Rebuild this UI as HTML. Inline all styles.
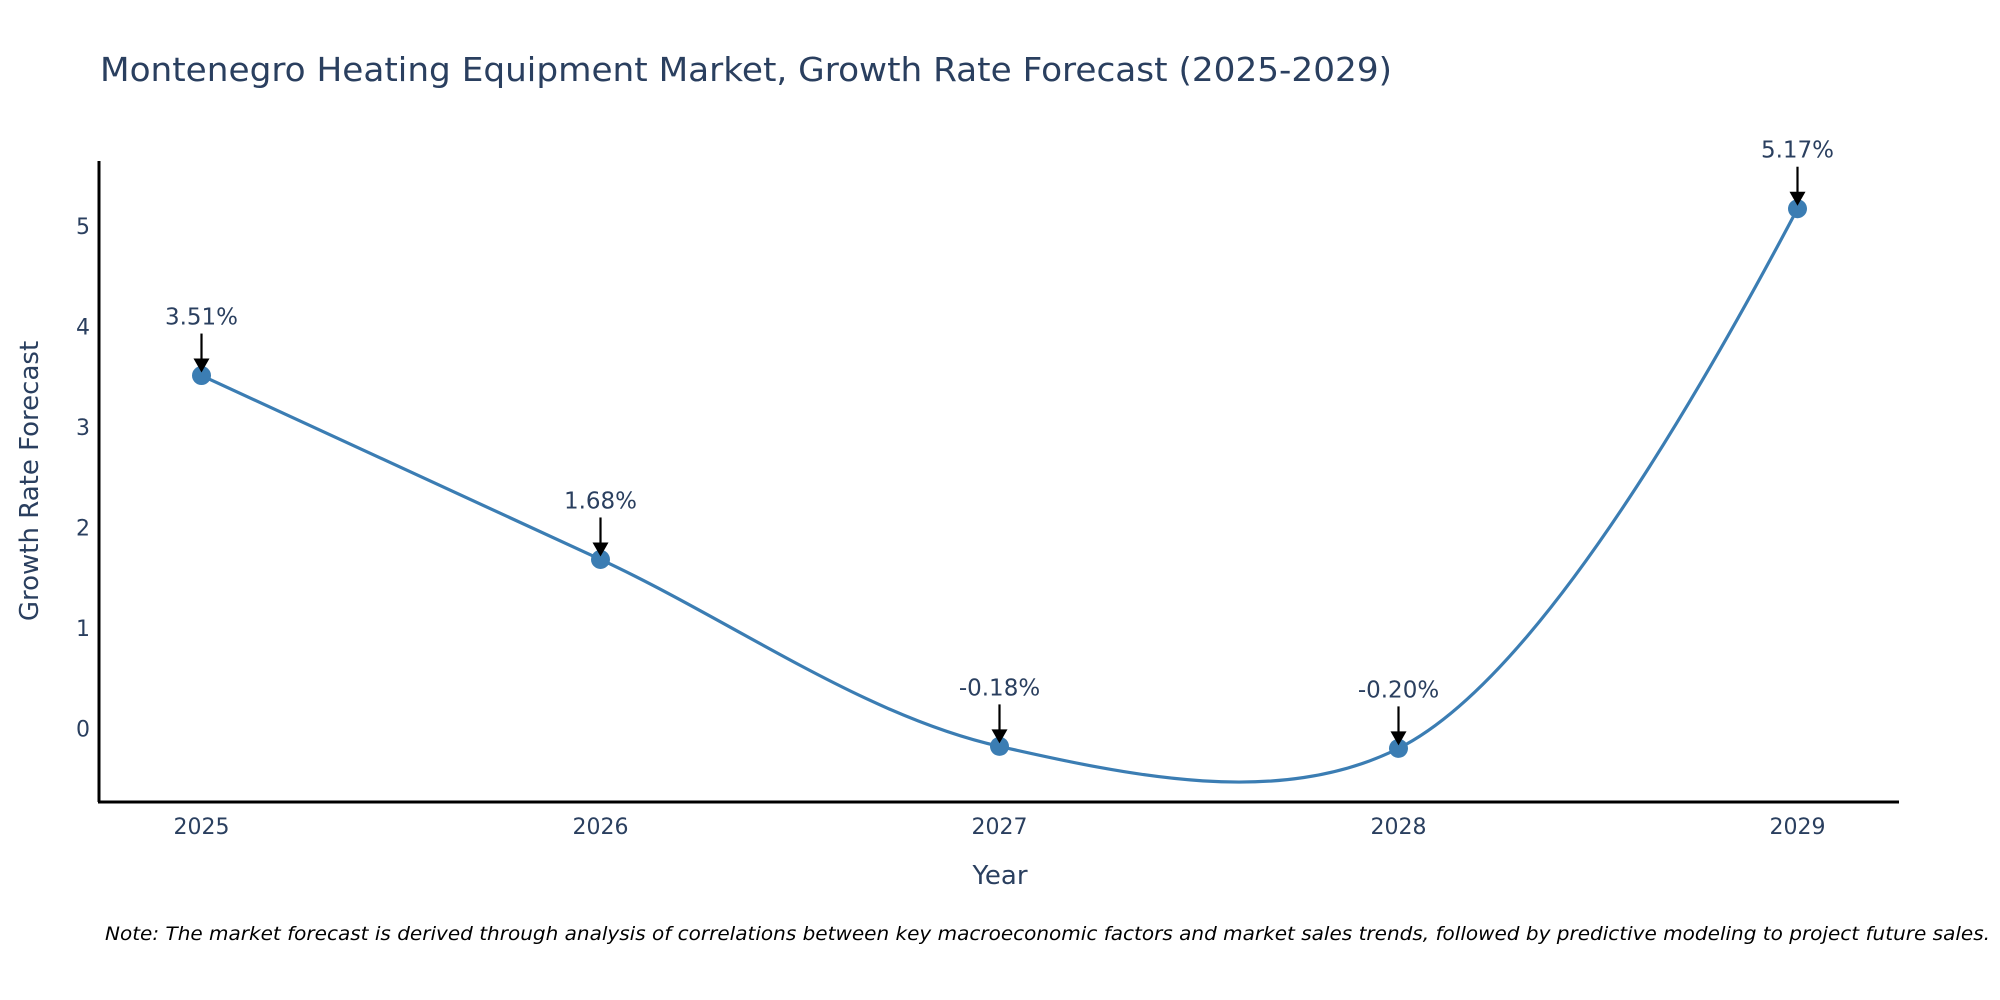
<!DOCTYPE html>
<html><head><meta charset="utf-8"><style>
body{margin:0;background:#fff;}
svg{display:block;font-family:"DejaVu Sans","Liberation Sans",sans-serif;}
</style></head><body>
<svg id="chart" width="2000" height="1000" viewBox="0 0 2000 1000">
<text x="100" y="81" font-size="33" fill="#2a3f5f" textLength="1292" lengthAdjust="spacingAndGlyphs">Montenegro Heating Equipment Market, Growth Rate Forecast (2025-2029)</text>
<g id="yticks"></g><g id="xticks"></g>
<line x1="99" y1="161" x2="99" y2="802" stroke="#000" stroke-width="3"/>
<line x1="98" y1="802" x2="1899" y2="802" stroke="#000" stroke-width="3"/>
<path id="line" fill="none" stroke="#3b7db3" stroke-width="3.2"/>
<g id="points"></g><g id="annots"></g>
<text transform="translate(38,481) rotate(-90)" text-anchor="middle" font-size="26" fill="#2a3f5f">Growth Rate Forecast</text>
<text x="1000" y="884" text-anchor="middle" font-size="26" fill="#2a3f5f">Year</text>
<text x="105" y="940" font-size="19" font-style="italic" fill="#000" textLength="1885" lengthAdjust="spacingAndGlyphs">Note: The market forecast is derived through analysis of correlations between key macroeconomic factors and market sales trends, followed by predictive modeling to project future sales.</text>
</svg>
<script>
const years = [2025, 2026, 2027, 2028, 2029];
const values = [3.51, 1.68, -0.18, -0.20, 5.17];
const labels = ["3.51%", "1.68%", "-0.18%", "-0.20%", "5.17%"];
const yTicks = [0, 1, 2, 3, 4, 5];
const NS = "http://www.w3.org/2000/svg";
function xs(v){return 201.5 + (v - 2025) * 399;}
function ys(v){return 728.3 - v * 100.5;}
function mk(tag, attrs, parent){const e=document.createElementNS(NS,tag);for(const k in attrs)e.setAttribute(k,attrs[k]);parent.appendChild(e);return e;}
const yt=document.getElementById('yticks');
yTicks.forEach(t=>{const e=mk('text',{x:90,y:ys(t)+8,'text-anchor':'end','font-size':22,fill:'#2a3f5f'},yt);


e.textContent=t;});
const xt=document.getElementById('xticks');
years.forEach(y=>{const e=mk('text',{x:xs(y),y:834,'text-anchor':'middle','font-size':22,fill:'#2a3f5f'},xt);


e.textContent=y;});
const pts=years.map((y,i)=>[xs(y),ys(values[i])]);
function tan(p0,p1,p2){const d1x=p0[0]-p1[0],d1y=p0[1]-p1[1],d2x=p2[0]-p1[0],d2y=p2[1]-p1[1];
const d1a=Math.pow(d1x*d1x+d1y*d1y,0.25),d2a=Math.pow(d2x*d2x+d2y*d2y,0.25);
const nx=d2a*d2a*d1x-d1a*d1a*d2x,ny=d2a*d2a*d1y-d1a*d1a*d2y;
const den1=3*d2a*(d1a+d2a),den2=3*d1a*(d1a+d2a);
return [[p1[0]+nx/den1,p1[1]+ny/den1],[p1[0]-nx/den2,p1[1]-ny/den2]];}
const tg=[];for(let i=1;i<pts.length-1;i++)tg.push(tan(pts[i-1],pts[i],pts[i+1]));
let d='M'+pts[0]+'Q'+tg[0][0]+' '+pts[1];
for(let i=2;i<pts.length-1;i++)d+='C'+tg[i-2][1]+' '+tg[i-1][0]+' '+pts[i];
d+='Q'+tg[tg.length-1][1]+' '+pts[pts.length-1];
document.getElementById('line').setAttribute('d',d);
const pg=document.getElementById('points'),ag=document.getElementById('annots');
pts.forEach((p,i)=>{const c=mk('circle',{cx:p[0],cy:p[1],r:9.5,fill:'#3b7db3'},pg);


const g=mk('g',{},ag);


mk('line',{x1:p[0],y1:p[1]-42,x2:p[0],y2:p[1]-14,stroke:'#000','stroke-width':2.2},g);
mk('path',{d:`M${p[0]-8},${p[1]-17}L${p[0]+8},${p[1]-17}L${p[0]},${p[1]-3}Z`,fill:'#000'},g);
const t=mk('text',{x:p[0],y:p[1]-51,'text-anchor':'middle','font-size':23,fill:'#2a3f5f'},g);
t.textContent=labels[i];});
</script>
</body></html>
